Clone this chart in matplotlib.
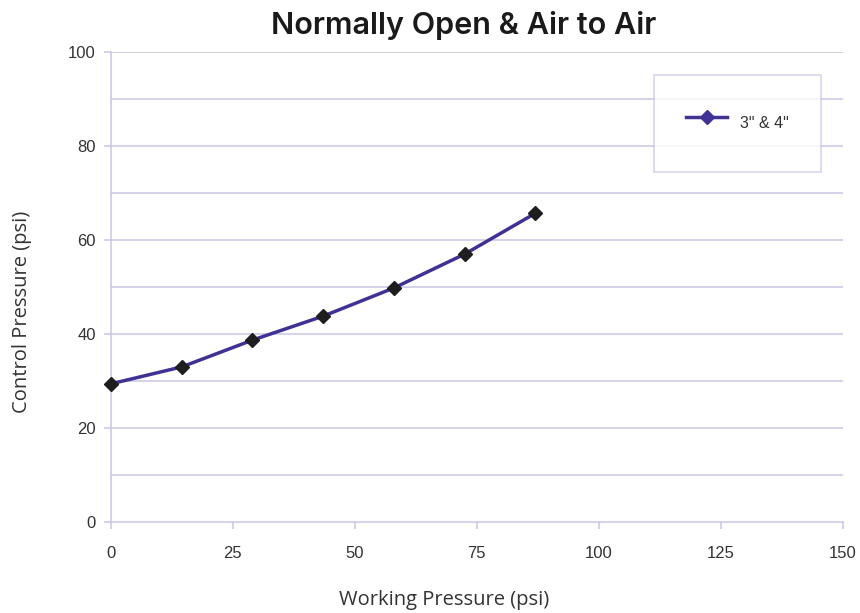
import matplotlib.pyplot as plt
from matplotlib.lines import Line2D

# Data
working_psi = [0, 14.5, 29, 43.5, 58, 72.5, 87]
control_psi = [29.4, 33.0, 38.7, 43.8, 49.8, 57.0, 65.7]
series_name = '3" & 4"'
x_ticks = [0, 25, 50, 75, 100, 125, 150]
y_ticks = [0, 20, 40, 60, 80, 100]

line_color = "#3f3294"
grid_color = "#c9c5e6"
text_color = "#333333"
label_font = "Open Sans"

fig = plt.figure(figsize=(8.6, 6.13), dpi=100)
ax = fig.add_axes([0.129, 0.1484, 0.851, 0.7668])

for y in range(10, 101, 10):
    ax.axhline(y, color=grid_color, lw=1.1, zorder=0)

ax.plot(working_psi, control_psi, color=line_color, lw=2.5, zorder=2,
        clip_on=False)
ax.plot(working_psi, control_psi, ls="none", marker="D", ms=7,
        color="#1e1e1e", zorder=3, clip_on=False)

ax.set_xlim(0, 150)
ax.set_ylim(0, 100)
ax.set_xticks(x_ticks)
ax.set_yticks(y_ticks)

for side in ("top", "right"):
    ax.spines[side].set_visible(False)
for side in ("left", "bottom"):
    ax.spines[side].set_color(grid_color)
    ax.spines[side].set_linewidth(1.1)

ax.tick_params(colors=grid_color, labelcolor=text_color, labelsize=12,
               length=5, width=1.1)
ax.tick_params(axis="x", pad=12)
ax.tick_params(axis="y", pad=6)
for lbl in ax.get_xticklabels() + ax.get_yticklabels():
    lbl.set_family("Liberation Sans")

# axis titles placed in figure coords to match the reference spacing
fig.text(444 / 860, 1 - 600 / 613, "Working Pressure (psi)", fontsize=14.5,
         color=text_color, family=label_font, ha="center", va="center")
fig.text(22 / 860, 1 - 312 / 613, "Control Pressure (psi)", fontsize=14.5,
         color=text_color, family=label_font, ha="center", va="center",
         rotation=90)
fig.text(464 / 860, 1 - 25 / 613, "Normally Open & Air to Air", fontsize=22,
         fontweight="semibold", family="Inter", color="#1a1a1a",
         ha="center", va="center")

handle = Line2D([], [], color=line_color, lw=2.5, marker="D", ms=7)
leg = ax.legend([handle], [series_name], loc="upper right",
                bbox_to_anchor=(0.97, 0.952),
                prop={"family": "Liberation Sans", "size": 11.5},
                frameon=True, fancybox=False, borderpad=2.0,
                handleheight=2.9, handlelength=2.6, handletextpad=0.8,
                borderaxespad=0)
leg.get_frame().set_edgecolor(grid_color)
leg.get_frame().set_linewidth(1.1)
for t in leg.get_texts():
    t.set_color(text_color)

fig.savefig("out.png", dpi=100)
